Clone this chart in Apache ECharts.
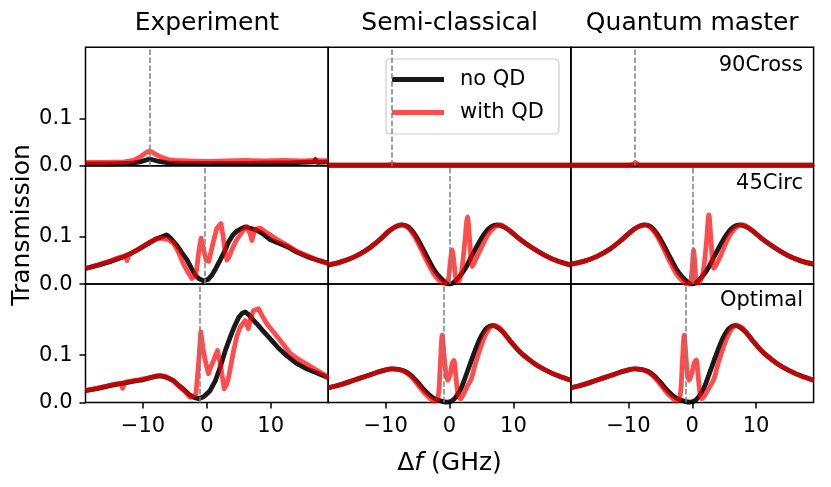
<!DOCTYPE html>
<html>
<head>
<meta charset="utf-8">
<script src="https://cdn.jsdelivr.net/npm/echarts@6/dist/echarts.min.js"></script>
<style>
html,body{margin:0;padding:0;background:#fff;}
#chart{width:831px;height:487px;}
</style>
</head>
<body>
<div id="chart"></div>
<script>
// ---------- DATA ----------
const colTitles = ['Experiment', 'Semi-classical', 'Quantum master'];
const rowLabels = ['90Cross', '45Circ', 'Optimal'];
const seriesNames = ['no QD', 'with QD'];
const xTicks = [-10, 0, 10];
const yTicks = [0, 0.1];
// QD resonance (dashed line) position per row / column, GHz
const qdLine = [[-9, -9, -9], [-0.3, 0, 0], [-1.1, -0.9, -1.0]];

// Row 1: 90Cross
const exp90_noQD = [[-19,0.004],[-17,0.004],[-15,0.004],[-13,0.005],[-12,0.005],[-10.5,0.008],[-9.5,0.012],[-9,0.014],[-8.3,0.012],[-7.5,0.009],[-6,0.006],[-3,0.005],[0,0.005],[3,0.005],[6,0.005],[10,0.006],[13,0.006],[15,0.007],[16.7,0.008],[17,0.013],[17.3,0.007],[19,0.008]];
const exp90_QD = [[-19,0.007],[-16,0.007],[-13,0.008],[-11.5,0.011],[-10.5,0.018],[-9.8,0.025],[-9.2,0.03],[-8.6,0.029],[-8,0.024],[-7,0.017],[-6,0.013],[-5,0.011],[-3,0.01],[0,0.009],[3,0.01],[6,0.011],[9,0.01],[12,0.011],[15,0.01],[17,0.011],[19,0.01]];
const sc90_noQD = [[-19,0.001],[0,0.001],[19,0.001]];
const sc90_QD = [[-19,0.001],[-10,0.001],[-9.4,0.002],[-9,0.004],[-8.6,0.002],[-8,0.001],[19,0.001]];
const qm90_noQD = [[-19,0.001],[0,0.001],[19,0.001]];
const qm90_QD = [[-19,0.001],[-10,0.001],[-9.3,0.003],[-8.9,0.007],[-8.5,0.003],[-8,0.001],[19,0.001]];

// Row 2: 45Circ
const exp45_noQD = [[-19,0.033],[-17,0.04],[-15,0.048],[-13,0.058],[-12,0.064],[-11,0.071],[-10,0.079],[-9,0.087],[-8,0.095],[-7,0.1],[-6.3,0.104],[-5.7,0.097],[-4.7,0.082],[-3.9,0.066],[-3.1,0.051],[-2.4,0.033],[-1.8,0.019],[-1.2,0.011],[-0.5,0.007],[0.2,0.01],[0.8,0.019],[1.4,0.033],[2.1,0.051],[2.8,0.07],[3.4,0.089],[4.1,0.104],[4.7,0.112],[5.4,0.117],[6,0.121],[6.8,0.118],[7.8,0.114],[8.8,0.106],[9.9,0.094],[11,0.088],[12.6,0.079],[14,0.068],[15.7,0.058],[17.5,0.05],[19,0.044]];
const exp45_QD = [[-19,0.033],[-17,0.041],[-15,0.05],[-14,0.055],[-12.8,0.06],[-12.5,0.05],[-12.2,0.063],[-11,0.072],[-10,0.08],[-9,0.088],[-8.3,0.093],[-7.5,0.097],[-6.8,0.096],[-6,0.094],[-5.2,0.086],[-4.4,0.066],[-3.7,0.044],[-3,0.026],[-2.35,0.012],[-1.9,0.016],[-1.6,0.03],[-1.25,0.07],[-0.9,0.097],[-0.55,0.075],[-0.1,0.05],[0.3,0.048],[0.6,0.065],[0.95,0.086],[1.57,0.118],[2.2,0.128],[2.5,0.105],[2.8,0.075],[3.14,0.051],[3.5,0.058],[3.9,0.072],[4.5,0.09],[5,0.1],[5.6,0.112],[6.3,0.121],[6.8,0.105],[7.06,0.092],[7.3,0.105],[7.6,0.116],[8.4,0.118],[9.2,0.11],[9.9,0.104],[11,0.094],[12.6,0.082],[14,0.07],[15.7,0.06],[17.5,0.05],[19,0.043]];
const sc45_noQD = [[-19,0.04],[-17,0.047],[-15,0.057],[-13,0.072],[-11,0.093],[-9.5,0.112],[-8.5,0.121],[-7.5,0.125],[-6.5,0.121],[-5.5,0.106],[-4.5,0.083],[-3.5,0.057],[-2.5,0.032],[-1.5,0.014],[-0.5,0.002],[0,0],[0.5,0.002],[1.5,0.015],[2.5,0.034],[3.5,0.06],[4.5,0.085],[5.5,0.107],[6.5,0.121],[7.5,0.125],[8.5,0.121],[9.5,0.112],[11,0.095],[13,0.076],[15,0.06],[17,0.048],[19,0.04]];
const sc45_QD = [[-19,0.04],[-17,0.047],[-15,0.057],[-13,0.072],[-11,0.093],[-9.5,0.112],[-8.5,0.121],[-7.5,0.125],[-6.5,0.119],[-5.5,0.101],[-4.5,0.075],[-3.5,0.047],[-2.5,0.022],[-1.5,0.006],[-0.8,0.001],[-0.2,0.01],[0.1,0.045],[0.4,0.072],[0.7,0.045],[1,0.01],[1.3,0.004],[1.8,0.02],[2.4,0.09],[2.8,0.142],[3.2,0.085],[3.55,0.037],[4.2,0.055],[4.9,0.075],[6,0.104],[7,0.12],[8,0.125],[9,0.117],[9.5,0.112],[11,0.095],[13,0.076],[15,0.06],[17,0.048],[19,0.04]];
const qm45_noQD = [[-19,0.042],[-17,0.048],[-15,0.058],[-13,0.073],[-11,0.094],[-9.5,0.112],[-8.5,0.121],[-7.5,0.125],[-6.5,0.121],[-5.5,0.106],[-4.5,0.083],[-3.5,0.057],[-2.5,0.032],[-1.5,0.014],[-0.5,0.002],[0,0],[0.5,0.002],[1.5,0.015],[2.5,0.034],[3.5,0.06],[4.5,0.085],[5.5,0.107],[6.5,0.121],[7.5,0.125],[8.5,0.121],[9.5,0.112],[11,0.095],[13,0.076],[15,0.06],[17,0.049],[19,0.042]];
const qm45_QD = [[-19,0.042],[-17,0.048],[-15,0.058],[-13,0.073],[-11,0.094],[-9.5,0.112],[-8.5,0.121],[-7.5,0.125],[-6.5,0.119],[-5.5,0.101],[-4.5,0.075],[-3.5,0.047],[-2.5,0.022],[-1.5,0.006],[-0.8,0.0],[-0.3,0.003],[0,0.035],[0.2,0.072],[0.45,0.035],[0.7,0.002],[1.2,0.005],[1.7,0.025],[2.2,0.085],[2.6,0.146],[2.95,0.09],[3.35,0.033],[3.8,0.042],[4.5,0.062],[5.2,0.085],[6,0.106],[7,0.121],[8,0.125],[9,0.117],[9.5,0.112],[11,0.095],[13,0.076],[15,0.06],[17,0.049],[19,0.042]];

// Row 3: Optimal
const expOpt_noQD = [[-19,0.025],[-17,0.03],[-15,0.036],[-13,0.041],[-11,0.046],[-10,0.048],[-9,0.052],[-8,0.055],[-7.3,0.056],[-6.5,0.054],[-5.8,0.05],[-5.2,0.046],[-4.3,0.035],[-3.5,0.026],[-2.8,0.017],[-2.1,0.011],[-1.3,0.008],[-0.5,0.012],[0.5,0.025],[1.3,0.045],[2.1,0.075],[2.9,0.11],[3.66,0.138],[4.3,0.16],[5,0.18],[5.5,0.188],[6,0.191],[6.6,0.185],[7.2,0.175],[7.85,0.166],[8.8,0.151],[9.9,0.135],[11.2,0.115],[12.5,0.099],[14,0.083],[15.5,0.072],[17,0.064],[18,0.058],[19,0.053]];
const expOpt_QD = [[-19,0.025],[-17,0.031],[-15,0.037],[-13.5,0.041],[-13.2,0.03],[-12.8,0.043],[-11,0.047],[-10,0.05],[-9,0.052],[-8,0.056],[-7.3,0.057],[-6.5,0.055],[-5.8,0.05],[-5.2,0.045],[-4.3,0.034],[-3.5,0.024],[-2.6,0.011],[-2.1,0.014],[-1.7,0.018],[-1.45,0.06],[-1.3,0.082],[-0.95,0.149],[-0.6,0.115],[-0.27,0.089],[0.26,0.061],[0.6,0.075],[1.05,0.089],[1.67,0.11],[2.2,0.075],[2.7,0.029],[3.1,0.038],[3.4,0.053],[4.2,0.11],[4.7,0.14],[5.2,0.159],[6,0.173],[6.5,0.156],[6.9,0.18],[7.3,0.194],[8.1,0.198],[8.7,0.182],[9.4,0.166],[10.5,0.148],[11.5,0.131],[13.1,0.103],[14.6,0.089],[16,0.078],[17.5,0.066],[18.5,0.058],[19,0.05]];
const scOpt_noQD = [[-19,0.031],[-17,0.038],[-15,0.047],[-13,0.056],[-11.5,0.063],[-10,0.069],[-9,0.071],[-8,0.07],[-7,0.066],[-6,0.057],[-5,0.043],[-4,0.027],[-3,0.014],[-2,0.006],[-1,0.002],[-0.4,0.001],[0.3,0.003],[1,0.012],[1.8,0.03],[2.6,0.058],[3.4,0.088],[4.2,0.117],[5,0.141],[5.8,0.157],[6.7,0.163],[7.6,0.158],[8.5,0.147],[9.5,0.13],[11,0.107],[12.5,0.09],[14,0.076],[16,0.062],[17.5,0.054],[19,0.047]];
const scOpt_QD = [[-19,0.031],[-17,0.038],[-15,0.047],[-13,0.056],[-11.5,0.063],[-10,0.069],[-9,0.071],[-8,0.07],[-7,0.065],[-6,0.054],[-5,0.038],[-4,0.021],[-3,0.008],[-2.5,0.003],[-2,0.005],[-1.7,0.02],[-1.45,0.08],[-1.15,0.142],[-0.85,0.1],[-0.55,0.06],[-0.26,0.047],[0.1,0.06],[0.4,0.082],[0.68,0.089],[0.95,0.06],[1.3,0.02],[1.73,0.008],[2.2,0.018],[2.8,0.035],[3.4,0.05],[4,0.08],[4.87,0.117],[5.6,0.142],[6.3,0.158],[7,0.163],[7.8,0.158],[8.5,0.147],[9.5,0.13],[11,0.107],[12.5,0.09],[14,0.076],[16,0.062],[17.5,0.054],[19,0.047]];
const qmOpt_noQD = [[-19,0.031],[-17,0.038],[-15,0.047],[-13,0.056],[-11.5,0.063],[-10,0.069],[-9,0.071],[-8,0.07],[-7,0.066],[-6,0.057],[-5,0.043],[-4,0.027],[-3,0.014],[-2,0.006],[-1,0.002],[-0.4,0.001],[0.3,0.003],[1,0.012],[1.8,0.03],[2.6,0.058],[3.4,0.088],[4.2,0.117],[5,0.141],[5.8,0.157],[6.7,0.163],[7.6,0.158],[8.5,0.147],[9.5,0.13],[11,0.107],[12.5,0.09],[14,0.076],[16,0.062],[17.5,0.054],[19,0.047]];
const qmOpt_QD = [[-19,0.031],[-17,0.038],[-15,0.047],[-13,0.056],[-11.5,0.063],[-10,0.069],[-9,0.071],[-8,0.07],[-7,0.065],[-6,0.054],[-5,0.038],[-4,0.021],[-3,0.008],[-2.6,0.003],[-2.1,0.006],[-1.8,0.025],[-1.55,0.085],[-1.26,0.142],[-1,0.1],[-0.75,0.06],[-0.47,0.047],[-0.1,0.06],[0.3,0.083],[0.63,0.09],[0.9,0.06],[1.2,0.02],[1.5,0.008],[2,0.016],[2.8,0.035],[3.4,0.05],[4,0.08],[4.87,0.117],[5.6,0.142],[6.3,0.158],[7,0.163],[7.8,0.158],[8.5,0.147],[9.5,0.13],[11,0.107],[12.5,0.09],[14,0.076],[16,0.062],[17.5,0.054],[19,0.047]];

const noQD = [[exp90_noQD, sc90_noQD, qm90_noQD],[exp45_noQD, sc45_noQD, qm45_noQD],[expOpt_noQD, scOpt_noQD, qmOpt_noQD]];
const withQD = [[exp90_QD, sc90_QD, qm90_QD],[exp45_QD, sc45_QD, qm45_QD],[expOpt_QD, scOpt_QD, qmOpt_QD]];

// ---------- LAYOUT ----------
const FONT = 'DejaVu Sans';
const gLeft = [85.5, 328.2, 570.9];
const gTop = [47.3, 165.7, 284.1];
const gW = 242.7, gH = 118.4;
const BLACK = 'rgba(0,0,0,0.9)';
const RED = 'rgba(255,0,0,0.7)';
const LW = 4.8;

const grids = [], xAxes = [], yAxes = [], series = [];
const fmtX = v => (v < 0 ? '\u2212' + Math.abs(v) : String(v));

for (let r = 0; r < 3; r++) {
  for (let c = 0; c < 3; c++) {
    const i = r * 3 + c;
    grids.push({ left: gLeft[c], top: gTop[r], width: gW, height: gH, show: true,
      borderColor: '#000', borderWidth: 1.5, backgroundColor: 'transparent', containLabel: false });
    const bottom = r === 2;
    const xa = {
      type: 'value', gridIndex: i, min: -19, max: 19, position: 'bottom',
      axisLine: { show: false, onZero: false }, splitLine: { show: false }
    };
    if (bottom) {
      xa.axisTick = { show: true, length: 6, inside: false, customValues: xTicks, lineStyle: { color: '#000', width: 1.5 } };
      xa.axisLabel = { show: true, customValues: xTicks, formatter: fmtX, fontSize: 21, color: '#000', fontFamily: FONT, margin: 14 };
    } else {
      xa.axisTick = { show: false };
      xa.axisLabel = { show: false };
    }
    if (r === 2 && c === 1) {
      xa.name = '{n|\u0394}{i|f}{n| (GHz)}';
      xa.nameLocation = 'middle';
      xa.nameGap = 48;
      xa.nameTextStyle = { rich: { n: { fontSize: 25, fontFamily: FONT, color: '#000' }, i: { fontSize: 25, fontFamily: FONT, fontStyle: 'italic', color: '#000' } } };
    }
    xAxes.push(xa);
    const left = c === 0;
    const ya = {
      type: 'value', gridIndex: i, min: 0, max: 0.25, position: 'left',
      axisLine: { show: false, onZero: false }, splitLine: { show: false }
    };
    if (left) {
      ya.axisTick = { show: true, length: 6, inside: false, customValues: yTicks, lineStyle: { color: '#000', width: 1.5 } };
      ya.axisLabel = { show: true, customValues: yTicks, formatter: v => v.toFixed(1), fontSize: 21, color: '#000', fontFamily: FONT, margin: 13 };
    } else {
      ya.axisTick = { show: false };
      ya.axisLabel = { show: false };
    }
    if (r === 1 && c === 0) {
      ya.name = 'Transmission';
      ya.nameLocation = 'middle';
      ya.nameRotate = 90;
      ya.nameGap = 51;
      ya.nameTextStyle = { fontSize: 25, fontFamily: FONT, color: '#000' };
    }
    yAxes.push(ya);

    const smooth = c === 0 ? false : 0.3;
    series.push({
      name: seriesNames[0], type: 'line', xAxisIndex: i, yAxisIndex: i,
      data: noQD[r][c], symbol: 'none', showSymbol: false, smooth: smooth,
      color: BLACK, lineStyle: { color: BLACK, width: LW, join: 'round' },
      z: 2, silent: true, animation: false,
      markLine: {
        silent: true, animation: false, symbol: ['none', 'none'],
        label: { show: false },
        lineStyle: { color: '#808080', type: [5.5, 2.4], width: 1.5 },
        emphasis: { disabled: true },
        data: [{ xAxis: qdLine[r][c] }]
      }
    });
    series.push({
      name: seriesNames[1], type: 'line', xAxisIndex: i, yAxisIndex: i,
      data: withQD[r][c], symbol: 'none', showSymbol: false, smooth: smooth,
      color: RED, lineStyle: { color: RED, width: LW, join: 'round' },
      z: 3, silent: true, animation: false
    });
  }
}

const graphics = [];
colTitles.forEach((t, c) => {
  graphics.push({ type: 'text', x: gLeft[c] + gW / 2, y: 23, silent: true,
    style: { text: t, fontSize: 25, fontFamily: FONT, fill: '#000', align: 'center', verticalAlign: 'middle' } });
});
const annY = [66, 184, 301];
rowLabels.forEach((t, r) => {
  graphics.push({ type: 'text', x: 803, y: annY[r], silent: true, z: 10,
    style: { text: t, fontSize: 21, fontFamily: FONT, fill: '#000', align: 'right', verticalAlign: 'middle' } });
});

const option = {
  backgroundColor: '#fff',
  animation: false,
  textStyle: { fontFamily: FONT },
  grid: grids, xAxis: xAxes, yAxis: yAxes, series: series,
  legend: {
    data: seriesNames, orient: 'vertical', left: 386, top: 59,
    padding: [10, 15, 11, 6], itemGap: 12, itemWidth: 52, itemHeight: 5, icon: 'rect',
    backgroundColor: 'rgba(255,255,255,0.8)', borderColor: '#cccccc', borderWidth: 1.2, borderRadius: 4,
    textStyle: { fontSize: 21, fontFamily: FONT, color: '#000', padding: [0, 0, 0, 11] },
    selectedMode: false
  },
  graphic: graphics
};

const chart = echarts.init(document.getElementById('chart'), null, { renderer: 'canvas' });
chart.setOption(option);
</script>
</body>
</html>
